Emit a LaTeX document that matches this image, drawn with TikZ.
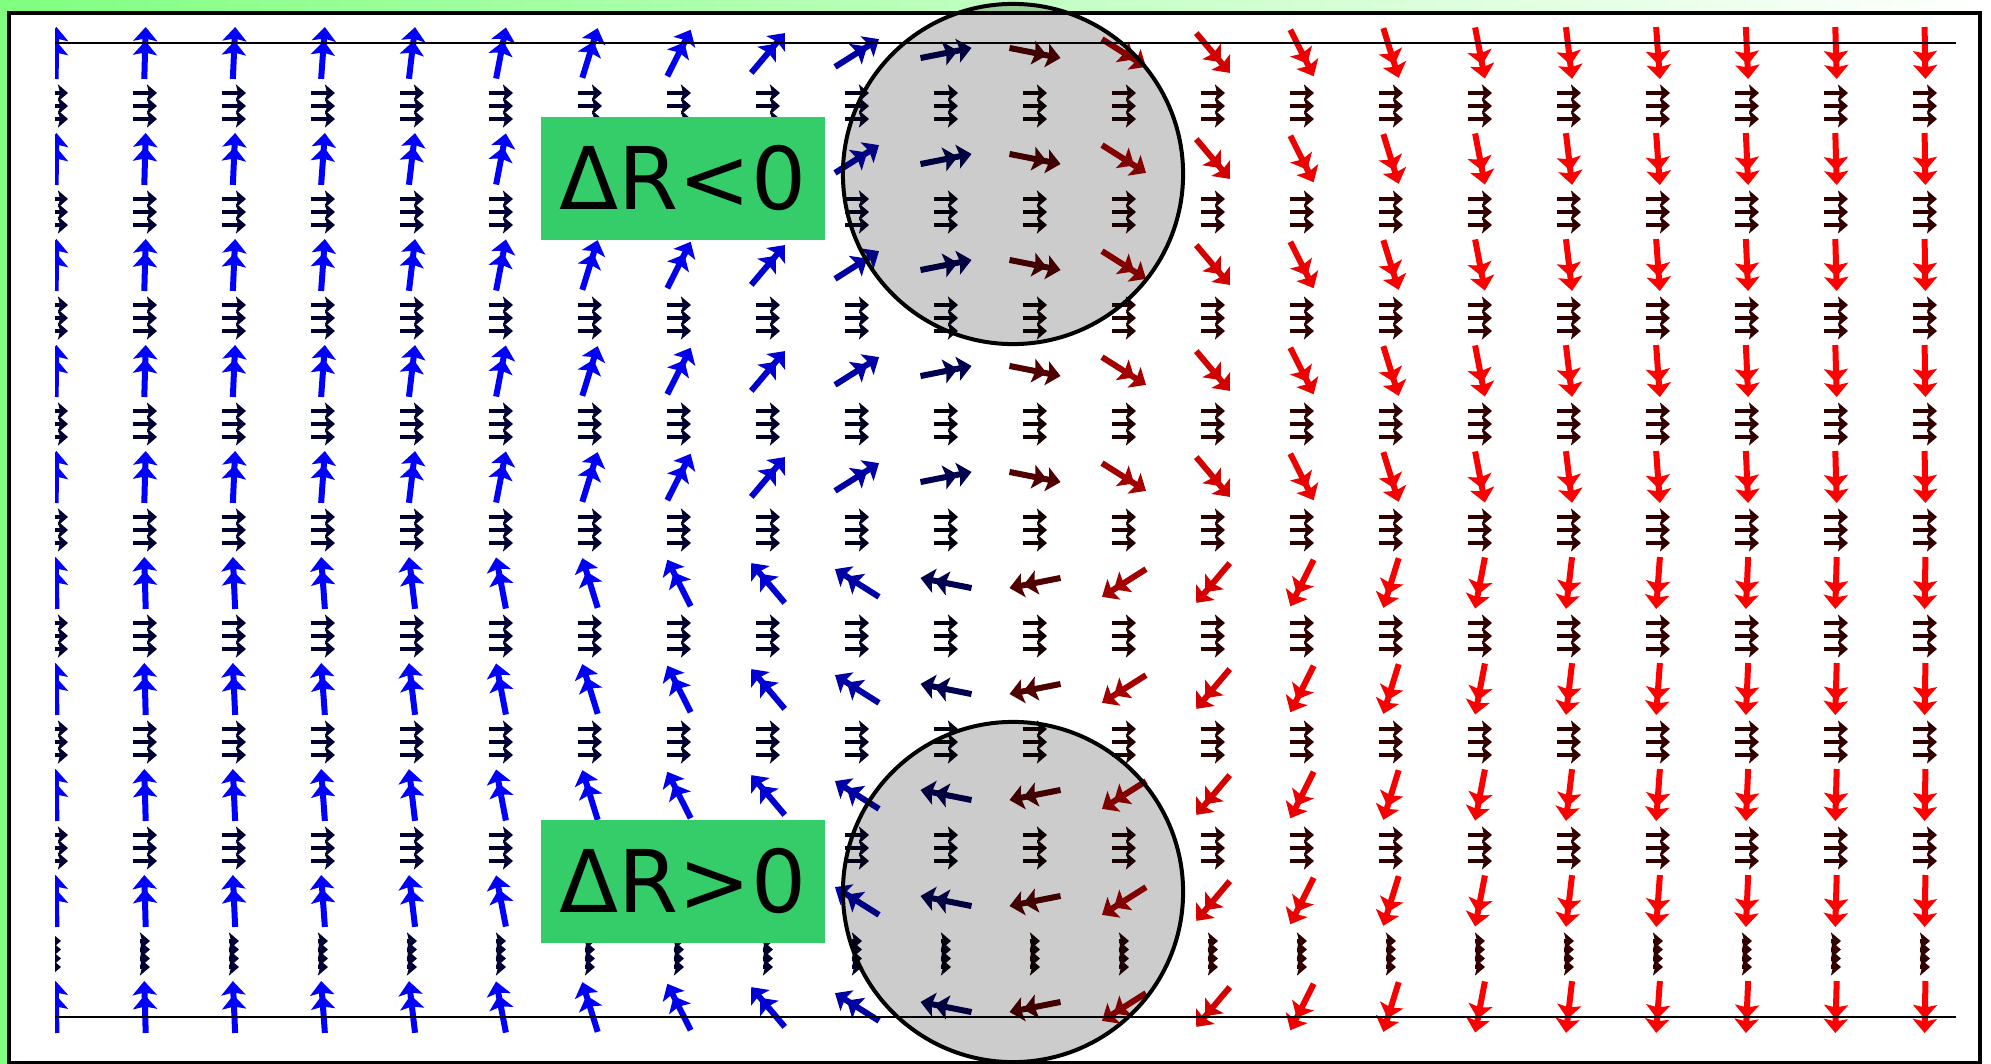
\documentclass[tikz,border=0pt]{standalone}
\usepackage{fontspec}
\usepackage{tikz}
\usetikzlibrary{arrows.meta}
\newfontfamily\letrero{DejaVu Sans}
\definecolor{verdefondo}{RGB}{128,255,128}
\definecolor{verdecaja}{RGB}{53,204,106}

\begin{document}
\begin{tikzpicture}[
  x=0.01cm, y=-0.01cm,
  flecha/.style={line width=0.6mm,
    -{Stealth[length=1.4mm,width=2.4mm,inset=0.25mm]Stealth[length=1.4mm,width=2.4mm,inset=0.25mm]}},
  peine/.style={line width=0.4mm, -{Stealth[length=1mm,width=1.7mm,inset=0.2mm]}},
  guia/.style={line width=0.2mm},
  disco/.style={draw=black, line width=0.4mm, fill=black, fill opacity=0.2},
  caja/.style={fill=verdecaja, inner sep=0pt, minimum width=2.84cm,
               minimum height=1.23cm, font=\letrero\fontsize{24.6}{30}\selectfont},
]
% --- Fondo y marco ---------------------------------------------------------
\useasboundingbox (0,0) rectangle (1991,1064);
\shade[left color=verdefondo, right color=white] (0,0) rectangle (1991,1064);
\draw[line width=0.45mm, fill=white] (9,13) rectangle (1980,1063);
% --- Campo de flechas --------------------------------------------------------
\begin{scope}
\clip (55,15) rectangle (1978,1061);
\foreach \i in {1,...,22}{
  \pgfmathsetmacro\cx{56+89*(\i-1)}
  \pgfmathsetmacro\ang{90+90*tanh((\i-11.5)/4)}
  \pgfmathsetmacro\azul{pow(max(0.0001,cos(\ang)),0.7)}
  \pgfmathsetmacro\rojo{pow(max(0.0001,-cos(\ang)),0.7)}
  \definecolor{tono}{rgb}{\rojo,0,\azul}
  \foreach \j in {0,...,9}{
    \pgfmathsetmacro\cy{53+106*\j}
    \pgfmathsetmacro\giro{\j<5 ? \ang : -\ang}
    \pgfmathsetmacro\dx{26*sin(\giro)}
    \pgfmathsetmacro\dy{26*cos(\giro)}
    \draw[flecha, draw=tono] (\cx-\dx,\cy+\dy) -- (\cx+\dx,\cy-\dy);
  }
  \foreach \k in {0,...,7}{
    \pgfmathsetmacro\ly{106+106*\k}
    \foreach \d in {-13,0,13}
      \draw[peine, draw=tono!20!black] (\cx-12,\ly+\d) -- (\cx+12,\ly+\d);
  }
  \foreach \d in {-13,-4.5,4.5,13}
    \draw[peine, draw=tono!20!black] (\cx-5,954+\d) -- (\cx+5,954+\d);
}
\end{scope}
\draw[guia] (55,43) -- (1956,43);
\draw[guia] (55,1017) -- (1956,1017);
% --- Zonas marcadas ------------------------------------------------------------
\draw[disco] (1013,174) circle (1.7cm);
\draw[disco] (1013,892) circle (1.7cm);
\node[caja] (menor) at (683,178.5) {ΔR<0};
\node[caja] (mayor) at (683,881.5) {ΔR>0};
\end{tikzpicture}
\end{document}
